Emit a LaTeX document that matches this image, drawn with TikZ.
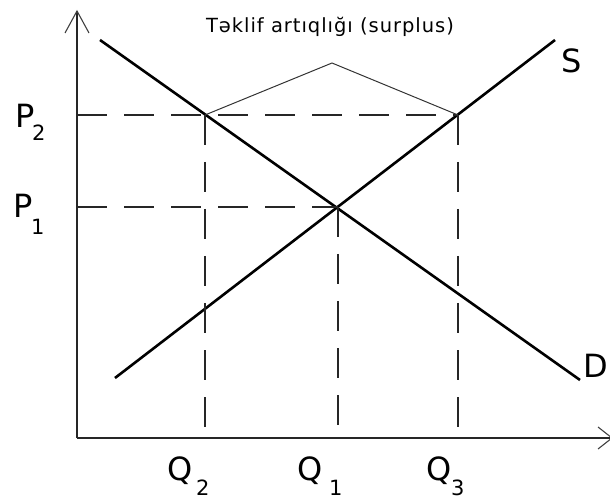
\documentclass[tikz,border=0pt]{standalone}
\usepackage{fontspec}
\setmainfont{DejaVu Sans}
\newfontfamily\notefont[LetterSpace=5]{DejaVu Sans}
\begin{document}
\begin{tikzpicture}[x=1pt,y=-1pt,
  axis/.style={line width=2pt,black!85},
  curve/.style={line width=2.6pt,black},
  guide/.style={line width=1.4pt,black!85,dash pattern=on 30pt off 17pt},
  tip/.style={line width=1.1pt,black!75},
  bracket/.style={line width=1pt,black!80},
  big/.style={font=\fontsize{32}{32}\selectfont,inner sep=0pt,anchor=base west},
  small/.style={font=\fontsize{21}{21}\selectfont,inner sep=0pt,anchor=base west},
  note/.style={font=\notefont\fontsize{19.5}{21}\selectfont,inner sep=0pt,anchor=base}]
\useasboundingbox (0,0) rectangle (610,502);
% axes
\coordinate (O) at (77,438);
\coordinate (Ytop) at (77,11);
\coordinate (Xend) at (612,438);
\draw[axis] (O) -- (Ytop);
\draw[axis] (O) -- (Xend);
\draw[tip] (65,33) -- (Ytop) -- (89,33);
\draw[tip] (598,427) -- (Xend) -- (598,449);
% curves
\coordinate (D1) at (100,40);
\coordinate (D2) at (580,380);
\coordinate (S1) at (115,378);
\coordinate (S2) at (555,40);
\draw[curve] (D1) -- (D2);
\draw[curve] (S1) -- (S2);
% key points
\coordinate (A) at (205,115);
\coordinate (E) at (338,207);
\coordinate (B) at (458,115);
\coordinate (Apeak) at (332,63);
\coordinate (P2a) at (77,115);
\coordinate (P1a) at (77,207);
\coordinate (Q2a) at (205,438);
\coordinate (Q1a) at (338,438);
\coordinate (Q3a) at (458,438);
% guides
\draw[guide] (P2a) -- (B);
\draw[guide] (P1a) -- (E);
\draw[guide] (A) -- (Q2a);
\draw[guide] (E) -- (Q1a);
\draw[guide] (B) -- (Q3a);
% surplus bracket
\draw[bracket] (A) -- (Apeak) -- (B);
\node[note] (t) at (330,33) {Təklif artıqlığı (surplus)};
% labels
\node[big] (p2) at (15,128) {P};
\node[small] (p2s) at (32,141) {2};
\node[big] (p1) at (13,218) {P};
\node[small] (p1s) at (31,235) {1};
\node[big] (q2) at (167,480) {Q};
\node[small] (q2s) at (196,495) {2};
\node[big] (q1) at (297,480) {Q};
\node[small] (q1s) at (329,495) {1};
\node[big] (q3) at (426,480) {Q};
\node[small] (q3s) at (451,495) {3};
\node[big] (s) at (561,73) {S};
\node[big] (d) at (583,377) {D};
\end{tikzpicture}
\end{document}
